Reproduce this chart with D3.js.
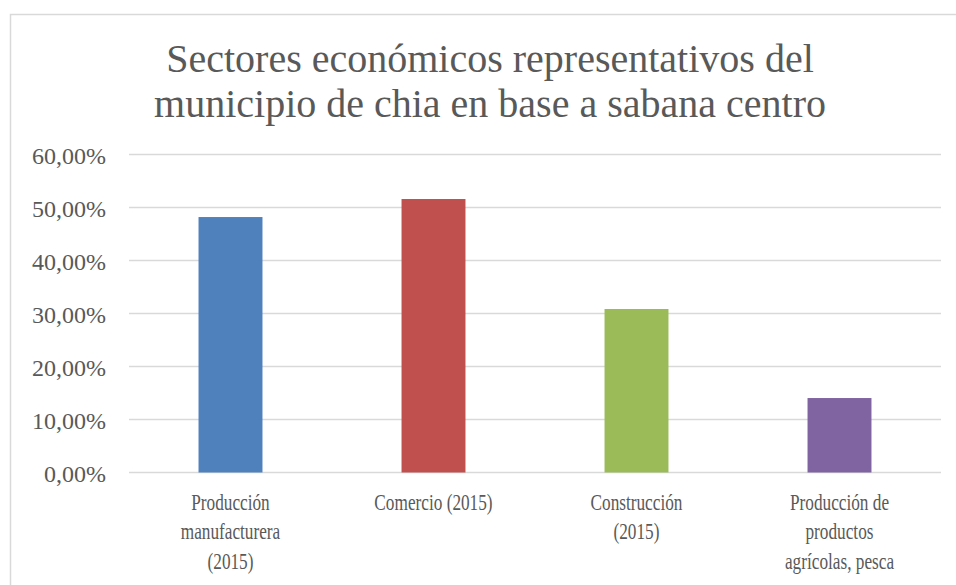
<!DOCTYPE html>
<html>
<head>
<meta charset="utf-8">
<script src="https://cdn.jsdelivr.net/npm/d3@7"></script>
<style>
  body { margin: 0; background: #fff; }
  svg { display: block; }
  text { font-family: "Liberation Serif", serif; fill: #595959; }
</style>
</head>
<body>
<div class="chart"></div>
<script>
const categories = [
  "Producción manufacturera (2015)",
  "Comercio (2015)",
  "Construcción (2015)",
  "Producción de productos agrícolas, pesca",
];
const categoryLines = [
  ["Producción", "manufacturera", "(2015)"],
  ["Comercio (2015)"],
  ["Construcción", "(2015)"],
  ["Producción de", "productos", "agrícolas, pesca"],
];
const values = [0.482, 0.516, 0.3085, 0.1405];
const colors = ["#4F81BD", "#C0504D", "#9BBB59", "#8064A2"];
const yTicks = [0, 0.1, 0.2, 0.3, 0.4, 0.5, 0.6];
const titleLines = [
  "Sectores económicos representativos del",
  "municipio de chia en base a sabana centro",
];

const width = 956;
const height = 585;
// the original font is narrow, squeeze the labels a bit
const squeeze = 0.75;

const esLocale = d3.formatLocale({
  decimal: ",",
  thousands: ".",
  grouping: [3],
  currency: ["", "€"],
});
const pct = esLocale.format(".2%");

const svg = d3
  .select(".chart")
  .append("svg")
  .attr("width", width)
  .attr("height", height);

// chart frame (only left + top edges show in the picture)
svg
  .append("path")
  .attr("d", `M10.5,${height} V14.5 H${width}`)
  .attr("fill", "none")
  .attr("stroke", "#D9D9D9")
  .attr("stroke-width", 1.5);

const xScale = d3
  .scaleBand()
  .domain(categories)
  .range([129, 941])
  .paddingInner(0.685)
  .paddingOuter(0.3425);

const yScale = d3.scaleLinear().domain([0, 0.6]).range([472.5, 154.5]);

// gridlines
svg
  .append("g")
  .selectAll("line")
  .data(yTicks)
  .enter()
  .append("line")
  .attr("x1", 129)
  .attr("x2", 941)
  .attr("y1", (d) => yScale(d))
  .attr("y2", (d) => yScale(d))
  .attr("stroke", "#D9D9D9")
  .attr("stroke-width", 1.5);

// y axis labels
const yAxis = svg
  .append("g")
  .attr("transform", "translate(106,0)")
  .call(d3.axisLeft(yScale).tickValues(yTicks).tickFormat(pct).tickSize(0).tickPadding(0));
yAxis.select(".domain").remove();
yAxis
  .selectAll(".tick text")
  .style("font-family", '"Liberation Serif", serif')
  .style("font-size", "24px")
  .style("fill", "#595959")
  .attr("dy", "0.38em");

// bars
svg
  .append("g")
  .selectAll("rect")
  .data(values)
  .enter()
  .append("rect")
  .attr("x", (d, i) => xScale(categories[i]))
  .attr("y", (d) => yScale(d))
  .attr("width", xScale.bandwidth())
  .attr("height", (d) => yScale(0) - yScale(d))
  .attr("fill", (d, i) => colors[i]);

// x category labels
svg
  .append("g")
  .attr("transform", `scale(${squeeze},1)`)
  .selectAll("text")
  .data(categoryLines)
  .enter()
  .append("text")
  .attr("text-anchor", "middle")
  .style("font-size", "23px")
  .attr("x", (d, i) => (xScale(categories[i]) + xScale.bandwidth() / 2) / squeeze)
  .attr("y", 510)
  .selectAll("tspan")
  .data((d) => d)
  .enter()
  .append("tspan")
  .attr("x", function () {
    return this.parentNode.getAttribute("x");
  })
  .attr("dy", (d, i) => (i == 0 ? 0 : 29.5))
  .text((d) => d);

// title
svg
  .append("text")
  .attr("text-anchor", "middle")
  .style("font-size", "40px")
  .selectAll("tspan")
  .data(titleLines)
  .enter()
  .append("tspan")
  .attr("x", 490)
  .attr("y", (d, i) => 72 + i * 45)
  .text((d) => d);
</script>
</body>
</html>
